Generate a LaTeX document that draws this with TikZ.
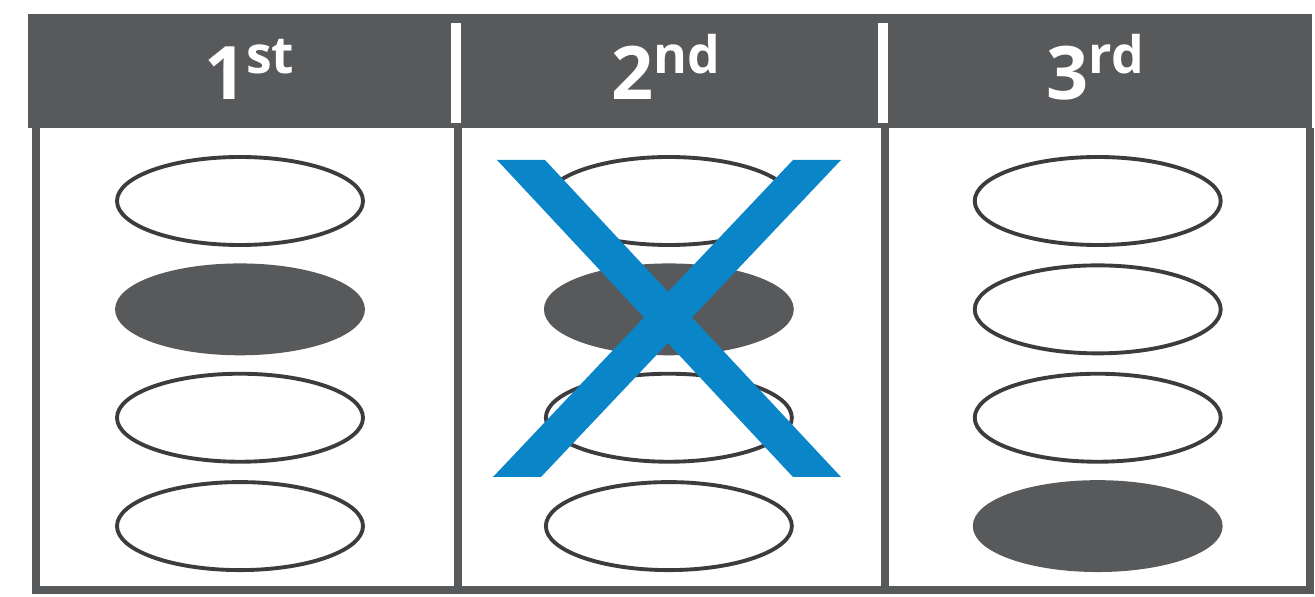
\documentclass[tikz,border=0pt]{standalone}
\usepackage{fontspec}
\setmainfont{Open Sans}
\usetikzlibrary{positioning,shapes.geometric}
\definecolor{headgray}{HTML}{58595B}
\definecolor{rimgray}{HTML}{3C3C3E}
\definecolor{crossblue}{HTML}{0A86C8}
\begin{document}
\begin{tikzpicture}[
  node distance=0.165cm and 1.79cm,
  oval/.style={ellipse, draw=rimgray, line width=1.1pt, fill=white, minimum width=2.46cm, minimum height=0.88cm, inner sep=0pt},
  marked/.style={oval, fill=headgray, draw=headgray},
  head/.style={text=white, font=\fontsize{21}{24}\selectfont\bfseries, anchor=base, inner sep=0pt},
  frame/.style={draw=headgray, line width=2.4pt}
]
\useasboundingbox (0,0) rectangle (13.15,5.97);
% header band
\fill[headgray] (0.28,5.83) rectangle (13.12,4.69);
\fill[white] (4.51,5.74) rectangle (4.61,4.74);
\fill[white] (8.78,5.74) rectangle (8.88,4.74);
\node[head] (h1) at (2.50,4.97) {1\textsuperscript{st}};
\node[head] (h2) at (6.67,4.97) {2\textsuperscript{nd}};
\node[head] (h3) at (10.96,4.97) {3\textsuperscript{rd}};
% ballot frame
\draw[frame] (0.36,4.69) -- (0.36,0.07) -- (13.10,0.07) -- (13.10,4.69);
\draw[frame] (4.58,4.69) -- (4.58,0.07);
\draw[frame] (8.85,4.69) -- (8.85,0.07);
% first choice
\node[oval] (a1) at (2.40,3.96) {};
\node[marked,below=of a1] (a2) {};
\node[oval,below=of a2] (a3) {};
\node[oval,below=of a3] (a4) {};
% second choice
\node[oval,right=of a1] (b1) {};
\node[marked,below=of b1] (b2) {};
\node[oval,below=of b2] (b3) {};
\node[oval,below=of b3] (b4) {};
% third choice
\node[oval,right=of b1] (c1) {};
\node[oval,below=of c1] (c2) {};
\node[oval,below=of c2] (c3) {};
\node[marked,below=of c3] (c4) {};
% cross over the spoilt column
\fill[crossblue] (4.97,4.37) -- (5.45,4.37) -- (8.41,1.20) -- (7.93,1.20) -- cycle;
\fill[crossblue] (7.93,4.37) -- (8.41,4.37) -- (5.41,1.20) -- (4.93,1.20) -- cycle;
\end{tikzpicture}
\end{document}
